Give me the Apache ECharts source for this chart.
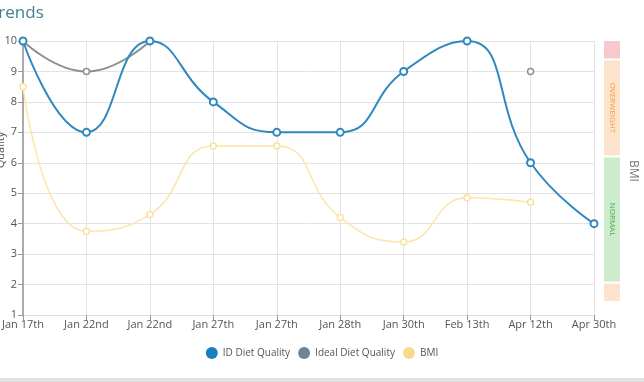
<!DOCTYPE html>
<html>
<head>
<meta charset="utf-8">
<script src="https://cdn.jsdelivr.net/npm/echarts@6/dist/echarts.min.js"></script>
<style>
  html, body { margin: 0; padding: 0; background: #fff; }
  #chart { width: 644px; height: 382px; }
</style>
</head>
<body>
<div id="chart"></div>
<script>
// Visit dates along the x axis
const dates = ['Jan 17th', 'Jan 22nd', 'Jan 22nd', 'Jan 27th', 'Jan 27th', 'Jan 28th', 'Jan 30th', 'Feb 13th', 'Apr 12th', 'Apr 30th'];

// Diet quality scores (0-10)
const idDietQuality = [10, 7, 10, 8, 7, 7, 9, 10, 6, 4];
const idealDietQuality = [10, 9, 10, null, null, null, null, null, 9, null];

// BMI trend, drawn on the quality scale
const bmi = [8.5, 3.75, 4.3, 6.55, 6.55, 4.2, 3.4, 4.85, 4.7, null];

// BMI category band: boundaries in BMI units, bottom to top
const bmiBandEdges = [17.5, 18.5, 25, 30, 31];
const bmiBandNames = ['', 'NORMAL', 'OVERWEIGHT', ''];
const bmiBandColors = ['#fde3cb', '#cdebcd', '#fde3cb', '#f8c9cc'];
const bmiBandTextColors = ['#f0a050', '#4cae4c', '#f0a040', '#e06060'];

const font = "'Open Sans', sans-serif";
const chart = echarts.init(document.getElementById('chart'));

// Invisible base bar lifts the stack up to the lowest edge
const bandBase = {
  type: 'bar',
  xAxisIndex: 1,
  yAxisIndex: 1,
  stack: 'band',
  barWidth: '100%',
  silent: true,
  data: [bmiBandEdges[0]],
  itemStyle: { color: 'transparent' }
};

const bandSeries = bmiBandNames.map((label, i) => ({
  type: 'bar',
  xAxisIndex: 1,
  yAxisIndex: 1,
  stack: 'band',
  barWidth: '100%',
  silent: true,
  data: [bmiBandEdges[i + 1] - bmiBandEdges[i]],
  itemStyle: { color: bmiBandColors[i], borderColor: '#fff', borderWidth: 1 },
  label: {
    show: !!label,
    formatter: label,
    position: 'inside',
    rotate: -90,
    fontSize: 8,
    fontFamily: font,
    color: bmiBandTextColors[i]
  }
}));

const legendColors = { 'ID Diet Quality': '#1a7fc1', 'Ideal Diet Quality': '#6f8392', 'BMI': '#fbd98a' };

chart.setOption({
  animation: false,
  title: {
    text: 'Trends',
    left: -16,
    top: 0,
    textStyle: { fontFamily: font, fontSize: 17, fontWeight: 'normal', color: '#3f8196' }
  },
  legend: {
    bottom: 18,
    left: 'center',
    itemWidth: 12,
    itemHeight: 12,
    itemGap: 8,
    icon: 'circle',
    textStyle: { fontFamily: font, fontSize: 10, color: '#555' },
    data: Object.keys(legendColors).map(name => ({
      name,
      itemStyle: { color: legendColors[name], borderWidth: 0 }
    }))
  },
  grid: [
    { left: 23, right: 50, top: 41, bottom: 67, containLabel: false, outerBoundsMode: 'none' },
    { left: 603, width: 18, top: 40, bottom: 80, containLabel: false, outerBoundsMode: 'none' }
  ],
  xAxis: [
    {
      type: 'category',
      gridIndex: 0,
      data: dates,
      boundaryGap: false,
      axisLine: { show: true, lineStyle: { color: '#ddd' } },
      axisTick: { show: true, length: 5, lineStyle: { color: '#999' } },
      splitLine: { show: true, lineStyle: { color: '#e3e3e3' } },
      axisLabel: { fontFamily: font, fontSize: 11, color: '#555', margin: 4, interval: 0 }
    },
    {
      type: 'category',
      gridIndex: 1,
      data: ['BMI'],
      show: false
    }
  ],
  yAxis: [
    {
      type: 'value',
      gridIndex: 0,
      min: 1,
      max: 10,
      interval: 1,
      name: 'Quality',
      nameLocation: 'middle',
      nameGap: 17,
      nameMoveOverlap: false,
      nameTextStyle: { fontFamily: font, fontSize: 11, color: '#555', padding: [0, 0, 0, 56] },
      axisLine: { show: true, lineStyle: { color: '#aaa', width: 2 } },
      axisTick: { show: true, length: 5, lineStyle: { color: '#999' } },
      splitLine: { show: true, lineStyle: { color: '#e3e3e3' } },
      axisLabel: { fontFamily: font, fontSize: 11, color: '#555', margin: 6 }
    },
    {
      type: 'value',
      gridIndex: 1,
      min: bmiBandEdges[0],
      max: bmiBandEdges[bmiBandEdges.length - 1],
      position: 'right',
      name: 'BMI',
      nameLocation: 'middle',
      nameRotate: -90,
      nameGap: 6,
      nameTextStyle: { fontFamily: font, fontSize: 12, color: '#777' },
      axisLine: { show: false },
      axisTick: { show: false },
      axisLabel: { show: false },
      splitLine: { show: false }
    }
  ],
  series: [
    {
      name: 'BMI',
      type: 'line',
      data: bmi,
      smooth: 0.5,
      symbol: 'circle',
      symbolSize: 6,
      color: '#fbd98a',
      lineStyle: { color: '#fce5a8', width: 1.5 },
      itemStyle: { color: '#fff', borderColor: '#fce0a0', borderWidth: 1.5 },
      z: 2
    },
    {
      name: 'Ideal Diet Quality',
      type: 'line',
      data: idealDietQuality,
      smooth: 0.5,
      connectNulls: false,
      symbol: 'circle',
      symbolSize: 6,
      color: '#6f8392',
      lineStyle: { color: '#8a9096', width: 2 },
      itemStyle: { color: '#fff', borderColor: '#8a9096', borderWidth: 1.5 },
      z: 3
    },
    {
      name: 'ID Diet Quality',
      type: 'line',
      data: idDietQuality,
      smooth: 0.5,
      symbol: 'circle',
      symbolSize: 7,
      color: '#1a7fc1',
      lineStyle: { color: '#2f88bf', width: 2 },
      itemStyle: { color: '#fff', borderColor: '#2f88bf', borderWidth: 2 },
      z: 4
    },
    bandBase,
    ...bandSeries
  ],
  graphic: [
    {
      type: 'rect',
      left: 0,
      bottom: 0,
      shape: { width: 644, height: 4 },
      style: { fill: '#dfe3e6' },
      silent: true
    }
  ]
});
</script>
</body>
</html>
